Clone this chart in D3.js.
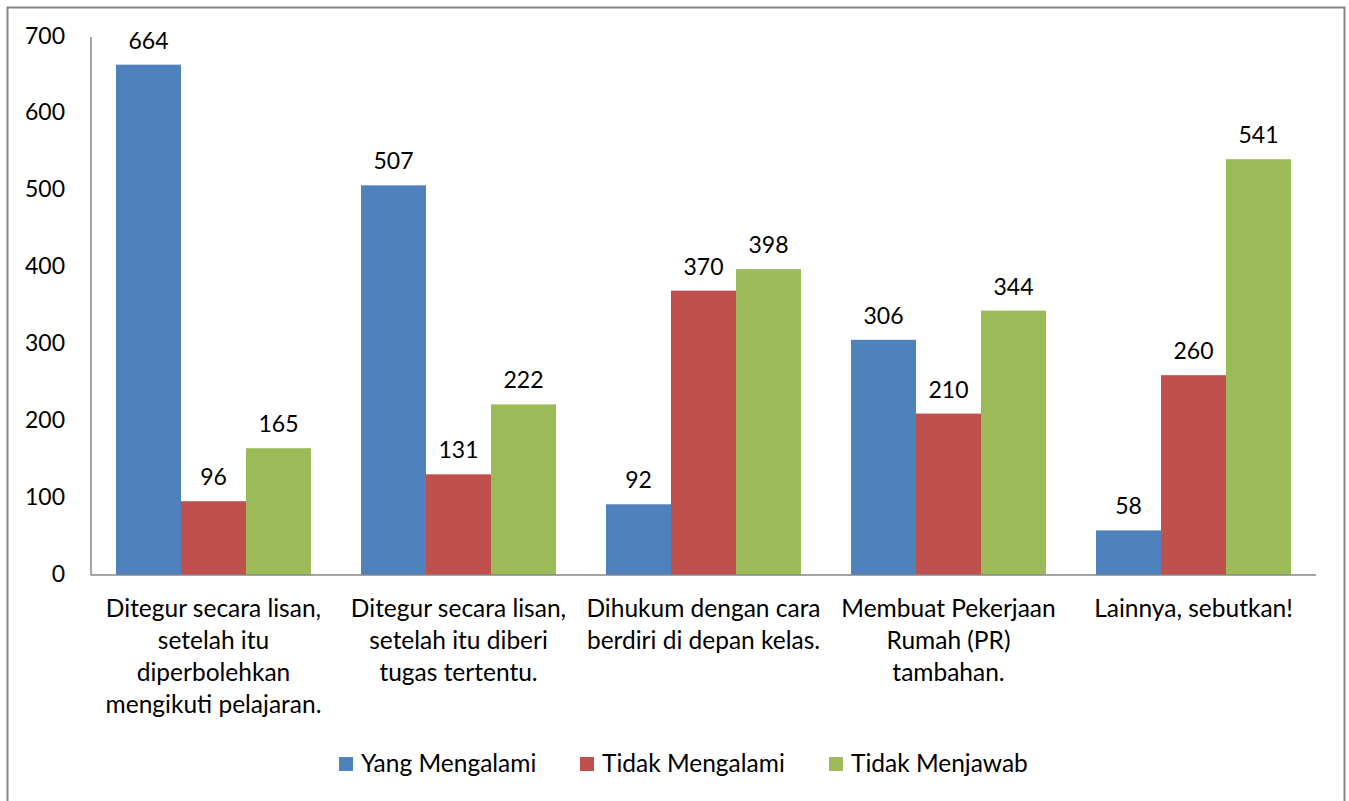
<!DOCTYPE html>
<html><head><meta charset="utf-8">
<script src="https://cdn.jsdelivr.net/npm/d3@7"></script>
<style>
html,body{margin:0;padding:0;background:#fff;}
svg{display:block;}
svg text{font-family:Lato,"Open Sans",sans-serif;}
</style></head>
<body>
<svg id="chart" width="1349" height="801"></svg>
<script>
const categories = [
  ["Ditegur secara lisan,", "setelah itu", "diperbolehkan", "mengikuti pelajaran."],
  ["Ditegur secara lisan,", "setelah itu diberi", "tugas tertentu."],
  ["Dihukum dengan cara", "berdiri di depan kelas."],
  ["Membuat Pekerjaan", "Rumah (PR)", "tambahan."],
  ["Lainnya, sebutkan!"]
];
const seriesNames = ["Yang Mengalami", "Tidak Mengalami", "Tidak Menjawab"];
const yangMengalami = [664, 507, 92, 306, 58];
const tidakMengalami = [96, 131, 370, 210, 260];
const tidakMenjawab = [165, 222, 398, 344, 541];
const yTicks = [0, 100, 200, 300, 400, 500, 600, 700];
const colors = ["#4f81bd", "#c0504d", "#9bbb59"];

(function(){
const seriesValues = [yangMengalami, tidakMengalami, tidakMenjawab];
const svg = d3.select("#chart");
const FS_NUM = 23, FS_TXT = 24.5;

// chart border
svg.append("rect").attr("x", 7.5).attr("y", 7.5).attr("width", 1337).attr("height", 800)
  .attr("fill", "#fff").attr("stroke", "#868686").attr("stroke-width", 2);

const pl = 91, pr = 1316, pt = 37, pb = 575;
const idx = d3.range(categories.length);
const x0 = d3.scaleBand().domain(idx).range([pl, pr]).paddingInner(50/245).paddingOuter(25/245);
const x1 = d3.scaleBand().domain(d3.range(seriesNames.length)).range([0, x0.bandwidth()]);
const y = d3.scaleLinear().domain([0, 700]).range([pb, pt]);

// y axis labels
const yAxis = d3.axisLeft(y).tickValues(yTicks).tickSize(0).tickPadding(26);
const ya = svg.append("g").attr("transform", `translate(${pl},0)`).call(yAxis)
  .attr("font-family", null).attr("font-size", null);
ya.select(".domain").remove();
ya.selectAll("text").attr("font-size", FS_NUM).attr("fill", "#000").attr("dy", 6);

// bars
const groups = svg.append("g").selectAll("g").data(idx).join("g")
  .attr("transform", i => `translate(${x0(i)},0)`);
groups.selectAll("rect").data(i => seriesValues.map((s, k) => ({k, v: s[i]}))).join("rect")
  .attr("x", d => x1(d.k)).attr("width", x1.bandwidth())
  .attr("y", d => y(d.v)).attr("height", d => y(0) - y(d.v))
  .attr("fill", d => colors[d.k]);
groups.selectAll("text.val").data(i => seriesValues.map((s, k) => ({k, v: s[i]}))).join("text")
  .attr("class", "val")
  .attr("x", d => x1(d.k) + x1.bandwidth()/2).attr("y", d => y(d.v) - 16)
  .attr("text-anchor", "middle").attr("font-size", FS_NUM).attr("fill", "#000")
  .text(d => d.v);

// axes lines
svg.append("line").attr("x1", pl).attr("x2", pl).attr("y1", pt).attr("y2", pb)
  .attr("stroke", "#868686").attr("stroke-width", 1.5);
svg.append("line").attr("x1", pl).attr("x2", pr).attr("y1", pb).attr("y2", pb)
  .attr("stroke", "#868686").attr("stroke-width", 1.5);

// category labels
const xAxis = d3.axisBottom(d3.scaleBand().domain(idx).range([pl, pr])).tickSize(0).tickFormat("");
const xa = svg.append("g").attr("transform", `translate(0,${pb})`).call(xAxis)
  .attr("font-family", null).attr("font-size", null);
xa.select(".domain").remove();
xa.selectAll(".tick").each(function(i) {
  const t = d3.select(this).append("text").attr("text-anchor", "middle")
    .attr("font-size", FS_TXT).attr("fill", "#000");
  categories[i].forEach((line, j) => {
    t.append("tspan").attr("x", 0).attr("y", 42 + j * 32).text(line);
  });
});

// legend
const legendX = [339, 580, 829];
const lg = svg.append("g").selectAll("g").data(seriesNames).join("g")
  .attr("transform", (d, i) => `translate(${legendX[i]},757)`);
lg.append("rect").attr("width", 14).attr("height", 14).attr("fill", (d, i) => colors[i]);
lg.append("text").attr("x", 22).attr("y", 15).attr("font-size", FS_TXT).attr("fill", "#000").text(d => d);
})();
</script>
</body></html>
